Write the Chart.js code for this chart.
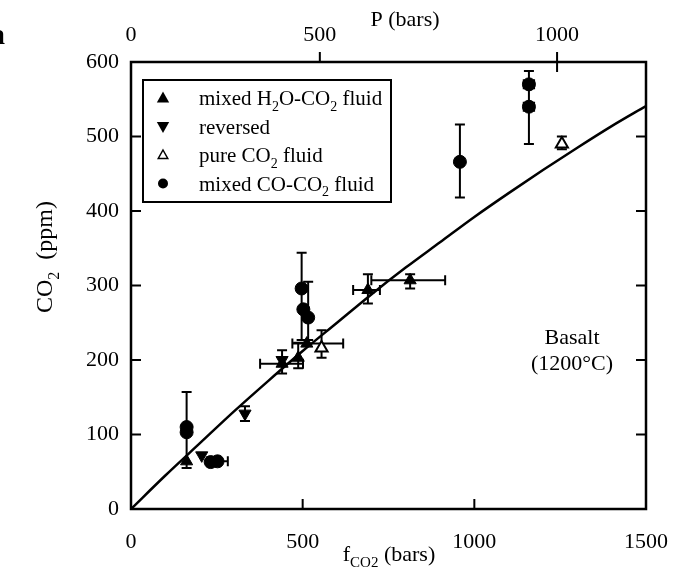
<!DOCTYPE html>
<html><head><meta charset="utf-8">
<script src="https://cdn.jsdelivr.net/npm/chart.js@4/dist/chart.umd.min.js"></script>
<style>html,body{margin:0;padding:0;background:#fff}</style>
</head><body>
<canvas id="c" width="675" height="577"></canvas>
<script>
// ---------- data ----------
const fTicks = [0, 500, 1000, 1500];                 // bottom axis, fCO2 (bars)
const ppmTicks = [0, 100, 200, 300, 400, 500, 600];   // CO2 (ppm)
const pTickLabels = ['0', '500', '1000'];            // top axis, P (bars)
const pTickAtFugacity = [0, 550, 1241];              // where those P values sit on the fCO2 scale

// model curve for basalt at 1200°C
const curveF   = [0, 100, 200, 300, 400, 500, 600, 700, 800, 900, 1000, 1100, 1200, 1300, 1400, 1500];
const curvePpm = [0, 45, 88, 131, 172, 212, 250, 288, 324, 358, 392, 424, 455, 485, 514, 541];

// mixed H2O-CO2 fluid (filled up triangles)
const h2oF     = [162, 440, 487, 512, 690, 813];
const h2oPpm   = [64, 195, 203, 222, 294, 307];
const h2oFLo   = [null, 376, null, 470, 647, 700];
const h2oFHi   = [null, 501, null, 618, 725, 915];
const h2oPpmLo = [null, 182, 189, null, 276, 296];
const h2oPpmHi = [null, 213, 223, null, 315, 315];

// reversed (filled down triangles)
const revF     = [206, 332, 440];
const revPpm   = [72, 128, 200];
const revFLo   = [null, null, null];
const revFHi   = [null, null, null];
const revPpmLo = [null, 118, null];
const revPpmHi = [null, 138, null];

// pure CO2 fluid (open triangles)
const pureF     = [555, 1255];
const purePpm   = [216, 490];
const pureFLo   = [null, null];
const pureFHi   = [null, null];
const purePpmLo = [203, 483];
const purePpmHi = [240, 500];

// mixed CO-CO2 fluid (filled circles)
const coF     = [162, 162, 232, 252, 497, 502, 516, 958, 1159, 1159];
const coPpm   = [110, 103, 63, 64, 296, 268, 257, 466, 570, 540];
const coFLo   = [null, null, null, 222, null, null, null, null, 1144, 1144];
const coFHi   = [null, null, null, 282, null, null, null, null, 1174, 1174];
const coPpmLo = [55, null, null, null, 227, null, 227, 418, null, 490];
const coPpmHi = [157, null, null, null, 344, null, 305, 516, 588, 570];

// ---------- drawing ----------
const SERIF = '"Liberation Serif","DejaVu Serif",serif';
const pts = (xs, ys) => xs.map((x, i) => ({x: x, y: ys[i]}));

const errSets = [
  [h2oF, h2oPpm, h2oFLo, h2oFHi, h2oPpmLo, h2oPpmHi],
  [revF, revPpm, revFLo, revFHi, revPpmLo, revPpmHi],
  [pureF, purePpm, pureFLo, pureFHi, purePpmLo, purePpmHi],
  [coF, coPpm, coFLo, coFHi, coPpmLo, coPpmHi]
];

function richWidth(ctx, parts, size) {
  let w = 0;
  parts.forEach(p => {
    ctx.font = (p[1] ? Math.round(size * 0.68) : size) + 'px ' + SERIF;
    w += ctx.measureText(p[0]).width;
  });
  return w;
}
function drawRich(ctx, parts, x, y, size, align) {
  let w = richWidth(ctx, parts, size);
  let cx = align === 'center' ? x - w / 2 : (align === 'right' ? x - w : x);
  ctx.textAlign = 'left';
  ctx.textBaseline = 'alphabetic';
  parts.forEach(p => {
    ctx.font = (p[1] ? Math.round(size * 0.68) : size) + 'px ' + SERIF;
    ctx.fillText(p[0], cx, y + (p[1] ? size * 0.28 : 0));
    cx += ctx.measureText(p[0]).width;
  });
}

function marker(ctx, style, x, y, r) {
  ctx.save();
  ctx.fillStyle = '#000'; ctx.strokeStyle = '#000'; ctx.lineWidth = 1.5;
  ctx.beginPath();
  if (style === 'circle') {
    ctx.arc(x, y, r, 0, Math.PI * 2);
  } else {
    const s = style === 'down' ? -1 : 1;
    ctx.moveTo(x, y - s * r);
    ctx.lineTo(x + r * 0.95, y + s * r * 0.7);
    ctx.lineTo(x - r * 0.95, y + s * r * 0.7);
    ctx.closePath();
  }
  if (style === 'open') { ctx.fillStyle = '#fff'; ctx.fill(); ctx.stroke(); }
  else { ctx.fill(); }
  ctx.restore();
}

const decor = {
  id: 'decor',
  beforeDatasetsDraw(chart) {
    const ctx = chart.ctx, xs = chart.scales.x, ys = chart.scales.y;
    ctx.save();
    ctx.strokeStyle = '#000'; ctx.lineWidth = 2;
    const cap = 5;
    errSets.forEach(([f, p, fLo, fHi, pLo, pHi]) => {
      f.forEach((fv, i) => {
        const x = xs.getPixelForValue(fv), y = ys.getPixelForValue(p[i]);
        if (pLo[i] != null || pHi[i] != null) {
          const y1 = ys.getPixelForValue(pLo[i] != null ? pLo[i] : p[i]);
          const y2 = ys.getPixelForValue(pHi[i] != null ? pHi[i] : p[i]);
          ctx.beginPath(); ctx.moveTo(x, y1); ctx.lineTo(x, y2);
          if (pLo[i] != null) { ctx.moveTo(x - cap, y1); ctx.lineTo(x + cap, y1); }
          if (pHi[i] != null) { ctx.moveTo(x - cap, y2); ctx.lineTo(x + cap, y2); }
          ctx.stroke();
        }
        if (fLo[i] != null || fHi[i] != null) {
          const x1 = xs.getPixelForValue(fLo[i] != null ? fLo[i] : fv);
          const x2 = xs.getPixelForValue(fHi[i] != null ? fHi[i] : fv);
          ctx.beginPath(); ctx.moveTo(x1, y); ctx.lineTo(x2, y);
          if (fLo[i] != null) { ctx.moveTo(x1, y - cap); ctx.lineTo(x1, y + cap); }
          if (fHi[i] != null) { ctx.moveTo(x2, y - cap); ctx.lineTo(x2, y + cap); }
          ctx.stroke();
        }
      });
    });
    ctx.restore();
  },
  afterDraw(chart) {
    const ctx = chart.ctx, a = chart.chartArea;
    const xs = chart.scales.x, ys = chart.scales.y, x2 = chart.scales.x2;
    ctx.save();
    ctx.strokeStyle = '#000'; ctx.fillStyle = '#000';
    // frame
    ctx.lineWidth = 2.5;
    ctx.strokeRect(a.left, a.top, a.right - a.left, a.bottom - a.top);
    // inward ticks
    ctx.lineWidth = 2;
    const tl = 10;
    ctx.beginPath();
    ys.ticks.forEach(t => {
      if (t.value <= 0 || t.value >= 600) return;
      const y = ys.getPixelForValue(t.value);
      ctx.moveTo(a.left, y); ctx.lineTo(a.left + tl, y);
      ctx.moveTo(a.right, y); ctx.lineTo(a.right - tl, y);
    });
    xs.ticks.forEach(t => {
      if (t.value <= 0 || t.value >= 1500) return;
      const x = xs.getPixelForValue(t.value);
      ctx.moveTo(x, a.bottom); ctx.lineTo(x, a.bottom - tl);
    });
    x2.ticks.forEach(t => {
      if (t.value <= 0) return;
      const x = x2.getPixelForValue(t.value);
      ctx.moveTo(x, a.top - tl); ctx.lineTo(x, a.top + (t.value > 1000 ? tl : 0));
    });
    ctx.stroke();

    // axis titles
    drawRich(ctx, [['P (bars)']], 405, 26, 22, 'center');
    drawRich(ctx, [['f'], ['CO2', 1], [' (bars)']], 389, 561, 22, 'center');
    ctx.save();
    ctx.translate(52, 257);
    ctx.rotate(-Math.PI / 2);
    drawRich(ctx, [['CO'], ['2', 1], ['  (ppm)']], 0, 0, 24, 'center');
    ctx.restore();

    // panel letter (cropped)
    ctx.font = 'bold 30px ' + SERIF;
    ctx.textAlign = 'left'; ctx.textBaseline = 'alphabetic';
    ctx.fillText('a', -10, 44);

    // annotation
    drawRich(ctx, [['Basalt']], 572, 344, 22, 'center');
    drawRich(ctx, [['(1200°C)']], 572, 370, 22, 'center');

    // legend
    ctx.lineWidth = 2;
    ctx.strokeRect(143, 80, 248, 122);
    const rows = [
      ['up', [['mixed H'], ['2', 1], ['O-CO'], ['2', 1], [' fluid']]],
      ['down', [['reversed']]],
      ['open', [['pure CO'], ['2', 1], [' fluid']]],
      ['circle', [['mixed CO-CO'], ['2', 1], [' fluid']]]
    ];
    rows.forEach((r, i) => {
      const y = 98 + i * 28.5;
      marker(ctx, r[0], 163, y, r[0] === 'circle' ? 5 : (r[0] === 'open' ? 5 : 6.5));
      ctx.fillStyle = '#000';
      drawRich(ctx, r[1], 199, y + 7, 21, 'left');
    });
    ctx.restore();
  }
};

const tickFont = {family: SERIF, size: 22};
const noPad = s => { s.paddingLeft = 0; s.paddingRight = 0; s.paddingTop = 0; s.paddingBottom = 0; };
new Chart(document.getElementById('c'), {
  type: 'scatter',
  data: {
    datasets: [
      {label: 'model', type: 'line', data: pts(curveF, curvePpm), borderColor: '#000', borderWidth: 2.5,
       pointRadius: 0, fill: false, cubicInterpolationMode: 'monotone', order: 5},
      {label: 'mixed H2O-CO2 fluid', data: pts(h2oF, h2oPpm), pointStyle: 'triangle', pointRadius: 7,
       backgroundColor: '#000', borderColor: '#000', borderWidth: 1},
      {label: 'reversed', data: pts(revF, revPpm), pointStyle: 'triangle', rotation: 180, pointRadius: 7,
       backgroundColor: '#000', borderColor: '#000', borderWidth: 1},
      {label: 'pure CO2 fluid', data: pts(pureF, purePpm), pointStyle: 'triangle', pointRadius: 7,
       backgroundColor: '#fff', borderColor: '#000', borderWidth: 2},
      {label: 'mixed CO-CO2 fluid', data: pts(coF, coPpm), pointStyle: 'circle', pointRadius: 6.5,
       backgroundColor: '#000', borderColor: '#000', borderWidth: 1}
    ]
  },
  options: {
    responsive: false, animation: false,
    layout: {padding: {left: 0, right: 29, top: 0, bottom: 0}},
    plugins: {legend: {display: false}, tooltip: {enabled: false}},
    scales: {
      x: {
        type: 'linear', position: 'bottom', min: 0, max: 1500,
        afterBuildTicks: s => { s.ticks = fTicks.map(v => ({value: v})); },
        afterFit: s => { s.height = 68; noPad(s); },
        ticks: {font: tickFont, color: '#000', padding: 20, maxRotation: 0, autoSkip: false,
                callback: v => String(v)},
        grid: {display: false, drawTicks: false}, border: {display: false}
      },
      x2: {
        type: 'linear', position: 'top', min: 0, max: 1500,
        afterBuildTicks: s => { s.ticks = pTickAtFugacity.map(v => ({value: v})); },
        afterFit: s => { s.height = 62; noPad(s); },
        ticks: {font: tickFont, color: '#000', padding: 14, maxRotation: 0, autoSkip: false,
                callback: (v, i) => pTickLabels[i]},
        grid: {display: false, drawTicks: false}, border: {display: false}
      },
      y: {
        type: 'linear', position: 'left', min: 0, max: 600,
        afterBuildTicks: s => { s.ticks = ppmTicks.map(v => ({value: v})); },
        afterFit: s => { s.width = 131; noPad(s); },
        ticks: {font: tickFont, color: '#000', padding: 12, autoSkip: false,
                callback: v => String(v)},
        grid: {display: false, drawTicks: false}, border: {display: false}
      }
    }
  },
  plugins: [decor]
});
</script>
</body></html>
